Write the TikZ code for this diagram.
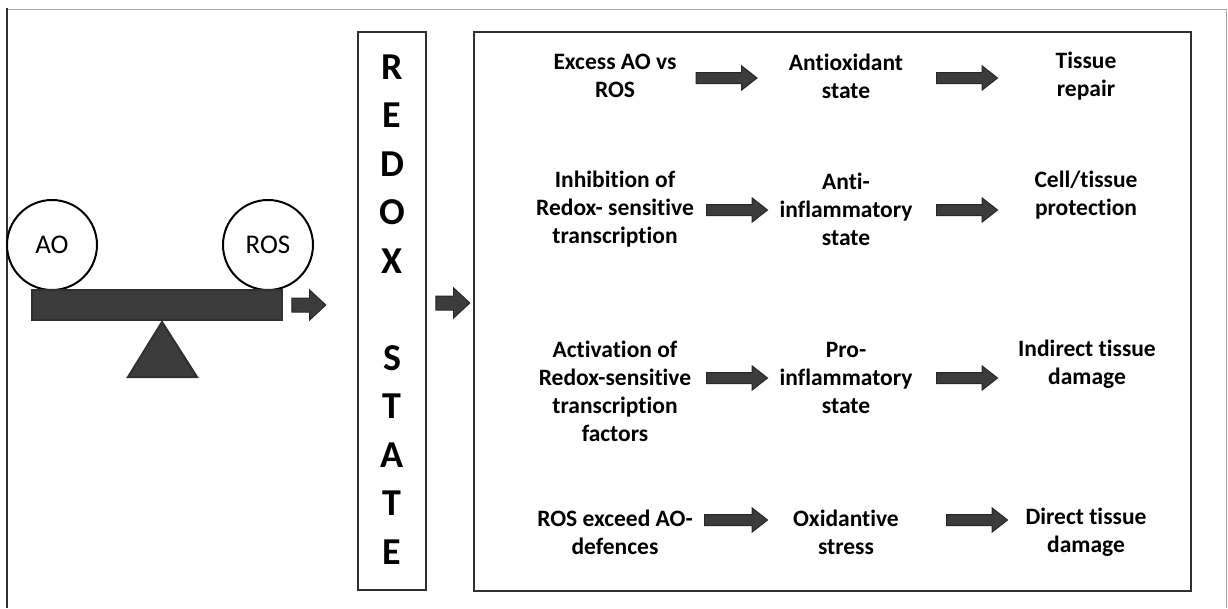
\documentclass[tikz,border=0pt]{standalone}
\usepackage{fontspec}
\setmainfont{Carlito}[Ligatures=NoCommon]
\usetikzlibrary{shapes.arrows}
\definecolor{dk}{HTML}{3C3C3C}
\definecolor{ln}{HTML}{303030}
\tikzset{
  boxline/.style={draw=ln, line width=2.6pt},
  weight/.style={draw=black, line width=2pt, fill=white, circle, minimum size=90pt, inner sep=0pt, font=\fontsize{27}{30}\selectfont},
  beam/.style={draw=ln, line width=2pt, fill=dk},
  bigarr/.style={single arrow, draw=black!85, line width=1pt, fill=dk, inner sep=5pt, single arrow head extend=6.5pt, single arrow tip angle=76, minimum width=0pt, minimum height=61pt, anchor=center},
  smallarr/.style={single arrow, draw=black!85, line width=1pt, fill=dk, inner sep=6.5pt, single arrow head extend=8pt, single arrow tip angle=86, minimum width=0pt, minimum height=34pt, anchor=center},
  lbl/.style={align=center, inner sep=0pt, font=\fontsize{23.5}{28}\selectfont\bfseries},
  redox/.style={inner sep=0pt, font=\fontsize{38}{38}\selectfont\bfseries},
}
\begin{document}
\begin{tikzpicture}[x=1pt, y=-1pt]
\useasboundingbox (0,0) rectangle (1228,608);
% outer frame
\draw[gray!70, line width=1pt] (7,9) -- (1226,9) -- (1226,608);
\draw[ln, line width=2.5pt] (7,8) -- (7,608);
% seesaw
\draw[beam] (162,322) -- (197,377) -- (128,377) -- cycle;
\node[weight] (ao) at (52,245) {AO};
\node[weight] (ros) at (268,245) {ROS};
\node[beam, rectangle, minimum width=250pt, minimum height=30pt, inner sep=0pt] (bar) at (157,305) {};
\node[smallarr] (arrA) at (305,305) {};
% redox box
\node[boxline, rectangle, minimum width=68pt, minimum height=558pt, inner sep=0pt] (redoxbox) at (392,311) {};
\foreach \l [count=\i from 0] in {R,E,D,O,X,,S,T,A,T,E} {
  \node[redox] (rl\i) at (392,67+48.5*\i) {\l};
}
\node[smallarr] (arrB) at (449,303) {};
% right box
\node[boxline, rectangle, minimum width=717pt, minimum height=559pt, inner sep=0pt] (mainbox) at (832.5,311.5) {};
% row 1
\node[lbl] (a1) at (615,76) {Excess AO vs\\ROS};
\node[lbl] (b1) at (846,76) {Antioxidant\\state};
\node[lbl] (c1) at (1086,76) {Tissue\\repair};
\node[bigarr] (p1) at (723,78) {};
\node[bigarr] (q1) at (963.5,78) {};
% row 2
\node[lbl] (a2) at (615,209.5) {Inhibition of\\Redox- sensitive\\transcription};
\node[lbl] (b2) at (846,209.5) {Anti-\\inflammatory\\state};
\node[lbl] (c2) at (1086,195.5) {Cell/tissue\\protection};
\node[bigarr] (p2) at (733.5,210) {};
\node[bigarr] (q2) at (963.5,210) {};
% row 3
\node[lbl] (a3) at (615,391.5) {Activation of\\Redox-sensitive\\transcription\\factors};
\node[lbl] (b3) at (846,378) {Pro-\\inflammatory\\state};
\node[lbl] (c3) at (1087,364) {Indirect tissue\\damage};
\node[bigarr] (p3) at (733.5,378) {};
\node[bigarr] (q3) at (963.5,378) {};
% row 4
\node[lbl] (a4) at (615,532.5) {ROS exceed AO-\\defences};
\node[lbl] (b4) at (846,532.5) {Oxidantive\\stress};
\node[lbl] (c4) at (1086,532.5) {Direct tissue\\damage};
\node[bigarr, minimum height=63pt] (p4) at (732.5,520) {};
\node[bigarr] (q4) at (973.5,520) {};
\end{tikzpicture}
\end{document}
